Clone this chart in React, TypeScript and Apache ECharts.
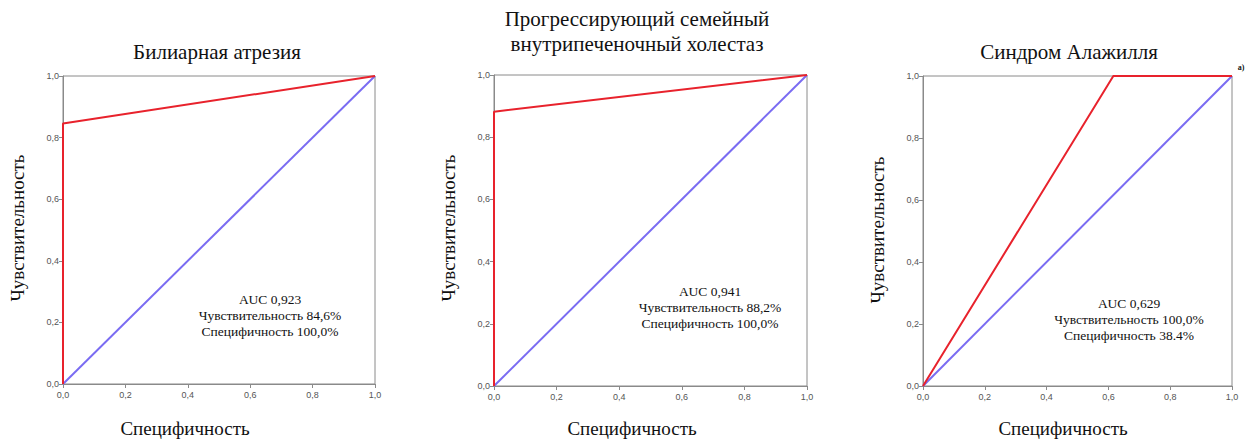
import React, { useEffect, useRef } from "react";
import * as echarts from "echarts";

const titles = ["Билиарная атрезия", "Прогрессирующий семейный\nвнутрипеченочный холестаз", "Синдром Алажилля"];
const xName = "Специфичность";
const yName = "Чувствительность";
const rocBA: number[][] = [[0, 0], [0, 0.846], [1, 1]];
const rocPFIC: number[][] = [[0, 0], [0, 0.882], [1, 1]];
const rocALGS: number[][] = [[0, 0], [0.616, 1], [1, 1]];
const diagonal: number[][] = [[0, 0], [1, 1]];
const notes = [
  ["AUC 0,923", "Чувствительность 84,6%", "Специфичность 100,0%"],
  ["AUC 0,941", "Чувствительность 88,2%", "Специфичность 100,0%"],
  ["AUC 0,629", "Чувствительность 100,0%", "Специфичность 38.4%"],
];
const panelTag = "а)";

const grids = [
  { left: 63, top: 76, width: 312, height: 308 },
  { left: 494, top: 75, width: 313, height: 311 },
  { left: 923, top: 76, width: 309, height: 310 },
];
const titlePos = [
  { x: 217, y: 52 },
  { x: 637, y: 31 },
  { x: 1069, y: 52 },
];
const xNamePos = [185, 632, 1063];
const yNamePos = [
  { x: 17, y: 228 },
  { x: 448, y: 228 },
  { x: 877, y: 230 },
];
const notePos = [
  { x: 270, y: 315 },
  { x: 710, y: 307 },
  { x: 1129, y: 319 },
];

const SERIF = "'Liberation Serif', 'Times New Roman', serif";

export default function App() {
  const ref = useRef<HTMLDivElement>(null);
  useEffect(() => {
    if (!ref.current) return;
    const chart = echarts.init(ref.current, null, { renderer: "svg" });
    const rocs = [rocBA, rocPFIC, rocALGS];
    const fmt = (v: number) => v.toFixed(1).replace(".", ",");
    const axisCommon = {
      min: 0,
      max: 1,
      interval: 0.2,
      splitLine: { show: false },
      axisLine: { show: true, lineStyle: { color: "#8a8a8a", width: 1 } },
      axisTick: { show: true, length: 4, lineStyle: { color: "#8a8a8a" } },
      axisLabel: { fontSize: 9, color: "#555", fontFamily: "'Liberation Sans', Arial, sans-serif", formatter: fmt },
    };
    const graphic: any[] = [];
    titles.forEach((t, i) => {
      graphic.push({
        type: "text",
        x: titlePos[i].x,
        y: titlePos[i].y,
        style: { text: t, font: `21px ${SERIF}`, fill: "#111", align: "center", verticalAlign: "middle", lineHeight: 25 },
      });
      graphic.push({
        type: "text",
        x: xNamePos[i],
        y: 428,
        style: { text: xName, font: `19px ${SERIF}`, fill: "#111", align: "center", verticalAlign: "middle" },
      });
      graphic.push({
        type: "text",
        x: yNamePos[i].x,
        y: yNamePos[i].y,
        rotation: Math.PI / 2,
        style: { text: yName, font: `19px ${SERIF}`, fill: "#111", align: "center", verticalAlign: "middle" },
      });
      graphic.push({
        type: "text",
        x: notePos[i].x,
        y: notePos[i].y,
        style: { text: notes[i].join("\n"), font: `13.5px ${SERIF}`, fill: "#111", align: "center", verticalAlign: "middle", lineHeight: 16 },
      });
    });
    graphic.push({
      type: "text",
      x: 1241,
      y: 67,
      style: { text: panelTag, font: `bold 8px ${SERIF}`, fill: "#111", align: "center", verticalAlign: "middle" },
    });
    const series: any[] = [];
    rocs.forEach((r, i) => {
      series.push({
        type: "line",
        xAxisIndex: i,
        yAxisIndex: i,
        data: diagonal,
        symbol: "none",
        lineStyle: { color: "#7a6cf2", width: 2 },
        z: 3,
      });
      series.push({
        type: "line",
        xAxisIndex: i,
        yAxisIndex: i,
        data: r,
        symbol: "none",
        lineStyle: { color: "#e8222c", width: 2 },
        z: 4,
      });
    });
    chart.setOption({
      animation: false,
      backgroundColor: "#fff",
      grid: grids.map((g) => ({ ...g, show: true, borderColor: "#8a8a8a", borderWidth: 1, backgroundColor: "transparent" })),
      xAxis: grids.map((_, i) => ({ ...axisCommon, type: "value", gridIndex: i, axisLabel: { ...axisCommon.axisLabel, margin: 6 } })),
      yAxis: grids.map((_, i) => ({ ...axisCommon, type: "value", gridIndex: i, axisLabel: { ...axisCommon.axisLabel, margin: 4 } })),
      series,
      graphic,
    });
    return () => chart.dispose();
  }, []);
  return <div ref={ref} style={{ position: "fixed", left: 0, top: 0, width: 1251, height: 441 }} />;
}
